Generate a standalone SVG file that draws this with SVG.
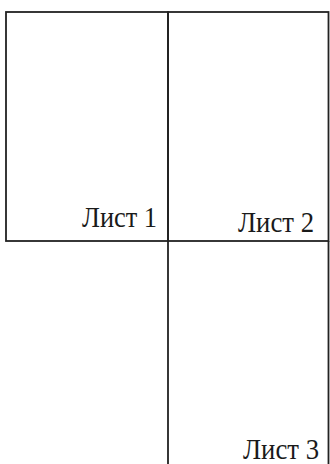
<svg xmlns="http://www.w3.org/2000/svg" width="330" height="464" viewBox="0 0 330 464">
<style>
.sheet{fill:none;stroke:#222;stroke-width:1.8}
.lbl{font-family:"Liberation Serif","Times New Roman",serif;font-size:29px;fill:#1a1a1a}
</style>
<rect width="330" height="464" fill="#fff"/>
<g id="sheet1">
<rect class="sheet" x="6" y="12" width="162" height="229"/>
<text class="lbl" x="82" y="227" textLength="75" lengthAdjust="spacingAndGlyphs">Лист 1</text>
</g>
<g id="sheet2">
<rect class="sheet" x="168" y="12" width="160.5" height="229"/>
<text class="lbl" x="238" y="231.5" textLength="76" lengthAdjust="spacingAndGlyphs">Лист 2</text>
</g>
<g id="sheet3">
<path class="sheet" d="M168 241V464M328.5 241V464"/>
<text class="lbl" x="243" y="459" textLength="76" lengthAdjust="spacingAndGlyphs">Лист 3</text>
</g>
<g id="connectors"></g>
</svg>
